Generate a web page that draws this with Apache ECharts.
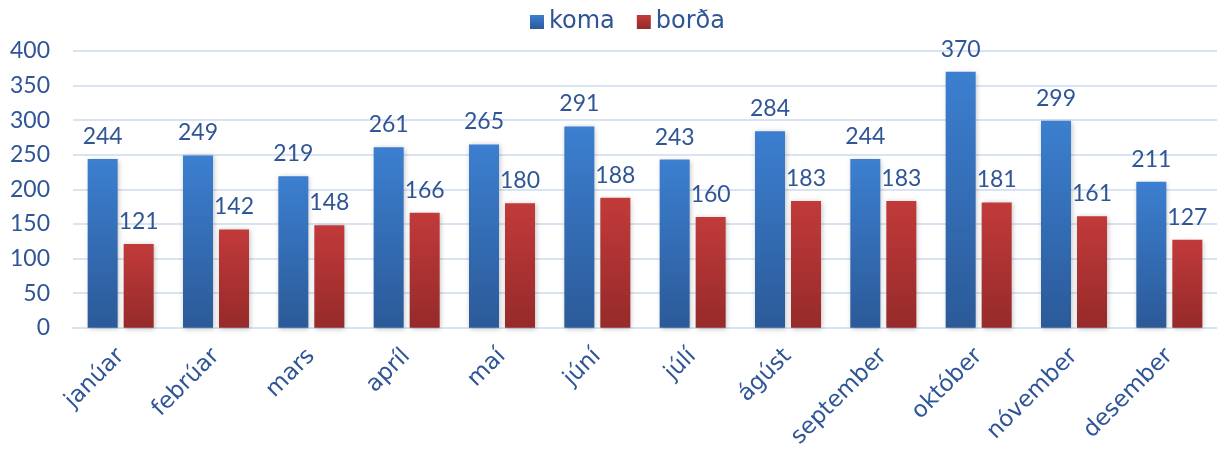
<!DOCTYPE html>
<html><head><meta charset="utf-8">
<script src="https://cdn.jsdelivr.net/npm/echarts@6/dist/echarts.min.js"></script>
<style>html,body{margin:0;padding:0;background:#fff}#c{width:1217px;height:451px}</style>
</head><body><div id="c"></div>
<script>
const categories = ['janúar','febrúar','mars','apríl','maí','júní','júlí','ágúst','september','október','nóvember','desember'];
const koma = [244,249,219,261,265,291,243,284,244,370,299,211];
const borda = [121,142,148,166,180,188,160,183,183,181,161,127];
const seriesNames = ['koma','borða'];
const yTicks = {min:0, max:400, interval:50};

const NUMFONT = 'Lato';
const WORDFONT = 'DejaVu Sans';
const TXT = '#2f5597';
const chart = echarts.init(document.getElementById('c'), null, {renderer:'canvas'});
function grad(top, bottom){
  return new echarts.graphic.LinearGradient(0,0,0,1,[{offset:0,color:top},{offset:1,color:bottom}]);
}
chart.setOption({
  animation:false,
  textStyle:{fontFamily:NUMFONT},
  legend:{top:5,left:525,icon:'rect',itemWidth:14,itemHeight:14,itemGap:22,
    textStyle:{color:TXT,fontSize:24,fontFamily:WORDFONT},
    data:seriesNames},
  grid:{left:73,right:0,top:51,bottom:122,containLabel:false},
  xAxis:{type:'category',data:categories,
    axisLine:{lineStyle:{color:'#d9e4f2',width:2}},axisTick:{show:false},
    axisLabel:{rotate:45,color:TXT,fontSize:23,fontFamily:WORDFONT,margin:25,interval:0}},
  yAxis:{type:'value',min:yTicks.min,max:yTicks.max,interval:yTicks.interval,
    axisLine:{show:false},axisTick:{show:false},
    splitLine:{lineStyle:{color:'#d9e4f2',width:2}},
    axisLabel:{color:TXT,fontSize:23,fontFamily:NUMFONT,margin:23}},
  series:[
    {name:seriesNames[0],type:'bar',data:koma,barWidth:30,barGap:'20%',
     itemStyle:{color:grad('#3c7fd0','#2b5a98'),shadowColor:'rgba(0,0,0,0.25)',shadowBlur:5,shadowOffsetX:1,shadowOffsetY:1},
     label:{show:true,position:'top',distance:11,color:TXT,fontSize:23,fontFamily:NUMFONT}},
    {name:seriesNames[1],type:'bar',data:borda,barWidth:30,
     itemStyle:{color:grad('#c23a3a','#962a2a'),shadowColor:'rgba(0,0,0,0.25)',shadowBlur:5,shadowOffsetX:1,shadowOffsetY:1},
     label:{show:true,position:'top',distance:11,color:TXT,fontSize:23,fontFamily:NUMFONT}}
  ]
});
</script></body></html>
